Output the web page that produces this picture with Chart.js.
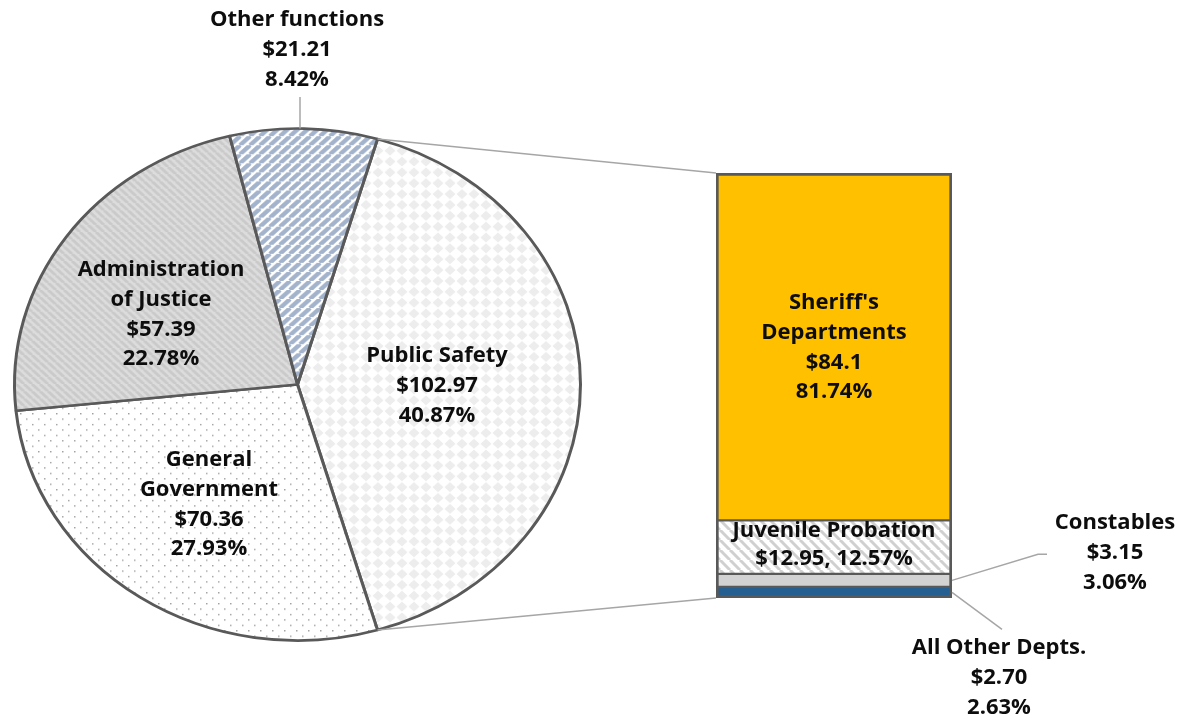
<!DOCTYPE html>
<html>
<head>
<meta charset="utf-8">
<script src="https://cdn.jsdelivr.net/npm/chart.js@4.4.0/dist/chart.umd.min.js"></script>
<style>
  body { margin: 0; background: #fff; }
  #wrap { position: relative; width: 1181px; height: 720px; }
  canvas { position: absolute; left: 0; top: 0; }
</style>
</head>
<body>
<div id="wrap">
  <canvas id="pie" width="1181" height="720"></canvas>
  <canvas id="bar" width="1181" height="720"></canvas>
</div>
<script>
// pie slices, in drawing order (Public Safety first, centred on the right)
const pieLabels = [["Public Safety"], ["General", "Government"], ["Administration", "of Justice"], ["Other functions"]];
const pieValues = [102.97, 70.36, 57.39, 21.21];
const pieValueText = ["$102.97", "$70.36", "$57.39", "$21.21"];
const piePercent = ["40.87%", "27.93%", "22.78%", "8.42%"];

// Public Safety breakdown, bottom to top of the bar
const barLabels = [["All Other Depts."], ["Constables"], ["Juvenile Probation"], ["Sheriff's", "Departments"]];
const barValues = [2.70, 3.15, 12.95, 84.1];
const barValueText = ["$2.70", "$3.15", "$12.95", "$84.1"];
const barPercent = ["2.63%", "3.06%", "12.57%", "81.74%"];

// label anchors (centre x, first line y)
const piePos = [[437, 356], [209, 460], [161, 270], [297, 20]];
const barPos = [[999, 648], [1115, 523], [834, 531], [834, 303]];

const SQUASH = 256 / 283; // the pie is an ellipse in the original
const FONT = 'bold 22px "Open Sans"';
const LINE = 29.7;
const EDGE = "#595959";
const LEADER = "#a6a6a6";

const helperCtx = document.getElementById("pie").getContext("2d");

function tile(w, h, draw) {
  const c = document.createElement("canvas");
  c.width = w;
  c.height = h;
  draw(c.getContext("2d"), w, h);
  return helperCtx.createPattern(c, "repeat");
}

function diag(bg, fg, s, lw, up) {
  return tile(s, s, (g) => {
    g.fillStyle = bg;
    g.fillRect(0, 0, s, s);
    g.strokeStyle = fg;
    g.lineWidth = lw;
    for (const o of [-s, 0, s]) {
      g.beginPath();
      if (up) { g.moveTo(o, s); g.lineTo(o + s, 0); }
      else { g.moveTo(o, 0); g.lineTo(o + s, s); }
      g.stroke();
    }
  });
}

const diamonds = tile(12, 12, (g) => {
  g.fillStyle = "#fff";
  g.fillRect(0, 0, 12, 12);
  g.fillStyle = "#ededed";
  g.beginPath();
  g.moveTo(6, 0.5); g.lineTo(11.5, 6); g.lineTo(6, 11.5); g.lineTo(0.5, 6);
  g.closePath();
  g.fill();
});

const dots = tile(12, 12, (g) => {
  g.fillStyle = "#fff";
  g.fillRect(0, 0, 12, 12);
  g.fillStyle = "#a0a0a0";
  g.fillRect(2, 2, 1.5, 1.5);
  g.fillRect(8, 8, 1.5, 1.5);
});

const pieColors = [diamonds, dots, diag("#dcdcdc", "#cacaca", 8, 3, false), diag("#ffffff", "#a3b3cb", 10, 4.5, true)];
const barColors = ["#255e91", "#d2d2d2", diag("#ffffff", "#d0d0d0", 10, 3, false), "#ffc000"];

const pieTotal = pieValues.reduce((a, b) => a + b, 0);
const barTotal = barValues.reduce((a, b) => a + b, 0);

const ellipse = {
  id: "ellipse",
  beforeDatasetsDraw(chart) {
    const a = chart.getDatasetMeta(0).data[0];
    const ctx = chart.ctx;
    ctx.save();
    ctx.translate(a.x, a.y);
    ctx.scale(1, SQUASH);
    ctx.translate(-a.x, -a.y);
  },
  afterDatasetsDraw(chart) {
    chart.ctx.restore();
  },
};

const pieChart = new Chart(document.getElementById("pie"), {
  type: "pie",
  data: {
    labels: pieLabels.map((l) => l.join(" ")),
    datasets: [{
      data: pieValues,
      backgroundColor: pieColors,
      borderColor: EDGE,
      borderWidth: 3,
    }],
  },
  options: {
    responsive: false,
    animation: false,
    rotation: 90 - (pieValues[0] / pieTotal) * 180,
    layout: { padding: { left: 13, top: 100, right: 599, bottom: 51 } },
    plugins: { legend: { display: false }, tooltip: { enabled: false } },
  },
  plugins: [ellipse],
});

function drawLines(ctx, x, y, lines, step) {
  lines.forEach((t, i) => ctx.fillText(t, x, y + i * step));
}

function seg(ctx, pts) {
  ctx.beginPath();
  ctx.moveTo(pts[0][0], pts[0][1]);
  pts.slice(1).forEach((p) => ctx.lineTo(p[0], p[1]));
  ctx.stroke();
}

const overlay = {
  id: "overlay",
  afterDraw(chart) {
    const ctx = chart.ctx;
    const arcs = pieChart.getDatasetMeta(0).data;
    const bars = barValues.map((v, i) => chart.getDatasetMeta(i).data[0]);
    const onRim = (arc, ang) => [arc.x + arc.outerRadius * Math.cos(ang), arc.y + arc.outerRadius * SQUASH * Math.sin(ang)];

    ctx.save();
    ctx.strokeStyle = LEADER;
    ctx.lineWidth = 1.5;

    // pie -> bar connectors
    const ps = arcs[0];
    const top = bars[3];
    const bottom = bars[0];
    seg(ctx, [onRim(ps, ps.startAngle), [top.x - top.width / 2, top.y]]);
    seg(ctx, [onRim(ps, ps.endAngle), [bottom.x - bottom.width / 2, bottom.base]]);

    // leader for Other functions
    const of = arcs[3];
    const p = onRim(of, (of.startAngle + of.endAngle) / 2);
    seg(ctx, [[piePos[3][0] + 3, p[1]], [piePos[3][0] + 3, 97]]);

    // leaders for the thin bar pieces
    const cons = bars[1];
    const cy = (cons.y + cons.base) / 2;
    const rx = cons.x + cons.width / 2;
    seg(ctx, [[rx, cy], [rx + 86, cy - 26], [rx + 95, cy - 26]]);
    const oth = bars[0];
    const oy = (oth.y + oth.base) / 2;
    seg(ctx, [[rx, oy], [rx + 50, oy + 37]]);

    // texts
    ctx.fillStyle = "#0d0d0d";
    ctx.font = FONT;
    ctx.textAlign = "center";
    ctx.textBaseline = "middle";
    pieLabels.forEach((l, i) => {
      drawLines(ctx, piePos[i][0], piePos[i][1], [...l, pieValueText[i], piePercent[i]], LINE);
    });
    barLabels.forEach((l, i) => {
      if (i === 2) {
        drawLines(ctx, barPos[i][0], barPos[i][1], [...l, barValueText[i] + ", " + barPercent[i]], 28);
      } else {
        drawLines(ctx, barPos[i][0], barPos[i][1], [...l, barValueText[i], barPercent[i]], LINE);
      }
    });
    ctx.restore();
  },
};

const last = barValues.length - 1;
new Chart(document.getElementById("bar"), {
  type: "bar",
  data: {
    labels: ["Public Safety"],
    datasets: barLabels.map((l, i) => ({
      label: l.join(" "),
      data: [barValues[i]],
      backgroundColor: barColors[i],
      borderColor: EDGE,
      borderWidth: { left: 3, right: 3, top: i === last ? 3 : 1.5, bottom: i === 0 ? 3 : 1.5 },
      borderSkipped: false,
      barPercentage: 1,
      categoryPercentage: 1,
    })),
  },
  options: {
    responsive: false,
    animation: false,
    layout: { padding: { left: 716, right: 229, top: 173, bottom: 122 } },
    scales: {
      x: { display: false, stacked: true },
      y: { display: false, stacked: true, min: 0, max: barTotal },
    },
    plugins: { legend: { display: false }, tooltip: { enabled: false } },
  },
  plugins: [overlay],
});
</script>
</body>
</html>
